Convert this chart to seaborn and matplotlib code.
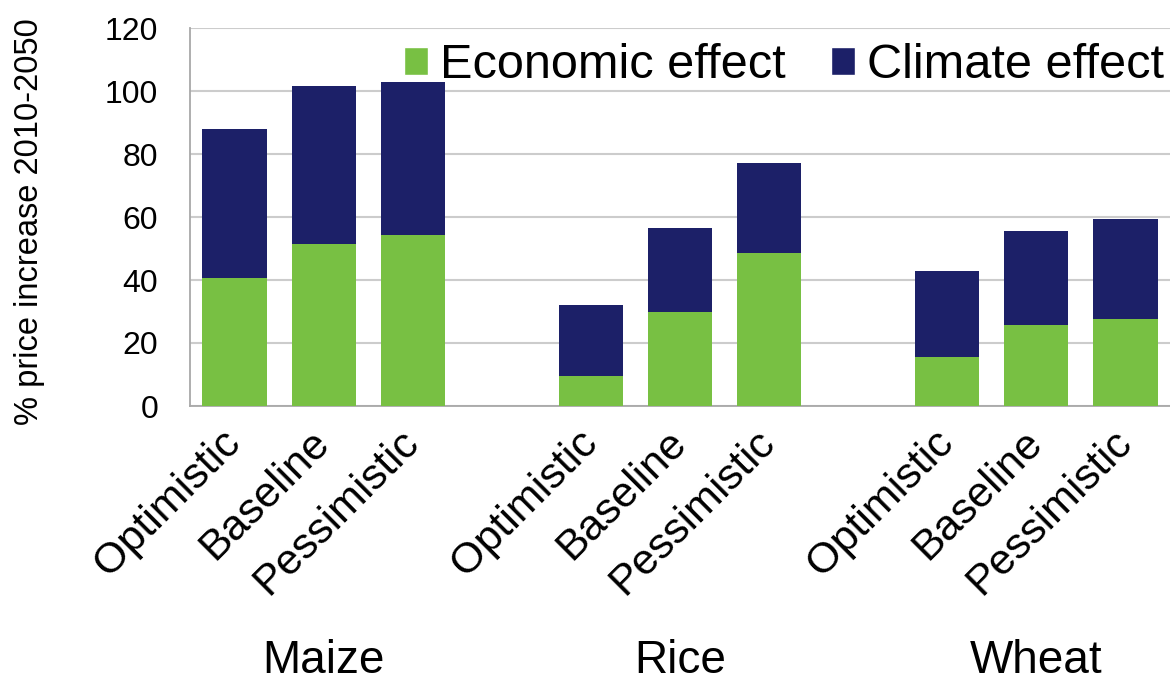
import numpy as np
import pandas as pd
import matplotlib.pyplot as plt
import matplotlib.transforms as mtransforms
import seaborn as sns
from matplotlib.patches import Patch

# Data (% price increase 2010-2050)
crops = ['Maize', 'Rice', 'Wheat']
scenarios = ['Optimistic', 'Baseline', 'Pessimistic']
economic = [40.5, 51.5, 54.2,
            9.6, 29.7, 48.6,
            15.4, 25.6, 27.6]
total = [87.8, 101.7, 102.9,
         32.0, 56.5, 77.3,
         42.8, 55.5, 59.4]
y_ticks = [0, 20, 40, 60, 80, 100, 120]

GREEN = '#78C043'
NAVY = '#1C2068'
GRID = '#CCCCCC'
AXIS = '#A8A8A8'

sns.set_style('white')
plt.rcParams['font.family'] = ['Liberation Sans', 'DejaVu Sans']
plt.rcParams['text.color'] = 'black'
plt.rcParams['xtick.labelcolor'] = 'black'
plt.rcParams['ytick.labelcolor'] = 'black'
plt.rcParams['axes.labelcolor'] = 'black'

rows = []
for i, crop in enumerate(crops):
    for j, sc in enumerate(scenarios):
        k = i * 3 + j
        rows.append({'key': f'{crop} {sc}', 'crop': crop, 'scenario': sc,
                     'economic': economic[k], 'total': total[k]})
df = pd.DataFrame(rows)

# category order with an empty slot between crops
order = []
labels = []
for i, crop in enumerate(crops):
    for sc in scenarios:
        order.append(f'{crop} {sc}')
        labels.append(sc)
    if i < len(crops) - 1:
        order.append(f'gap{i}')
        labels.append('')

fig = plt.figure(figsize=(11.7, 6.81), dpi=100)
ax = fig.add_axes([190 / 1170, 275 / 681, 1 - 190 / 1170, 378 / 681])

# climate effect stacked on economic effect: draw totals, then economic part
sns.barplot(data=df, x='key', y='total', order=order, color=NAVY,
            saturation=1, width=0.72, errorbar=None, linewidth=0,
            ax=ax, zorder=2)
sns.barplot(data=df, x='key', y='economic', order=order, color=GREEN,
            saturation=1, width=0.72, errorbar=None, linewidth=0,
            ax=ax, zorder=3)

ax.set_ylim(0, 120)
ax.set_xlim(-0.5, 10.34)
ax.set_yticks(y_ticks)
ax.yaxis.grid(True, color=GRID, linewidth=1.5, zorder=0)
ax.set_axisbelow(True)

ax.set_xticks(range(len(order)))
ax.set_xticklabels(labels, rotation=45, ha='right', va='center',
                   rotation_mode='anchor', fontsize=31)
ax.set_xticks(np.arange(-0.5, len(order), 1), minor=True)
ax.tick_params(axis='x', which='major', length=0, pad=22)
ax.tick_params(axis='x', which='minor', length=7, width=1.3, color=AXIS)
ax.tick_params(axis='y', length=7, width=1.3, color=AXIS, pad=16,
               labelsize=23)

for side in ['top', 'right']:
    ax.spines[side].set_visible(False)
for side in ['left', 'bottom']:
    ax.spines[side].set_color(AXIS)
    ax.spines[side].set_linewidth(1.3)

ax.set_xlabel('')
ax.set_ylabel('% price increase 2010-2050', fontsize=23.5)
ax.yaxis.set_label_coords(-0.148, 0.487)

# crop names under each group
trans = mtransforms.blended_transform_factory(ax.transData, fig.transFigure)
for crop in crops:
    ax.text(order.index(f'{crop} Baseline'), 1 - 661 / 681, crop,
            transform=trans, fontsize=33, ha='center', va='center')

handles = [Patch(facecolor=GREEN, label='Economic effect'),
           Patch(facecolor=NAVY, label='Climate effect')]
fig.legend(handles=handles, loc='center left',
           bbox_to_anchor=(404 / 1170, 1 - 66 / 681), ncol=2, frameon=False,
           fontsize=35, handlelength=0.5, handleheight=0.5,
           handletextpad=0.25, columnspacing=0.92, borderpad=0,
           borderaxespad=0)

fig.savefig('out.png', dpi=100, facecolor='white')
